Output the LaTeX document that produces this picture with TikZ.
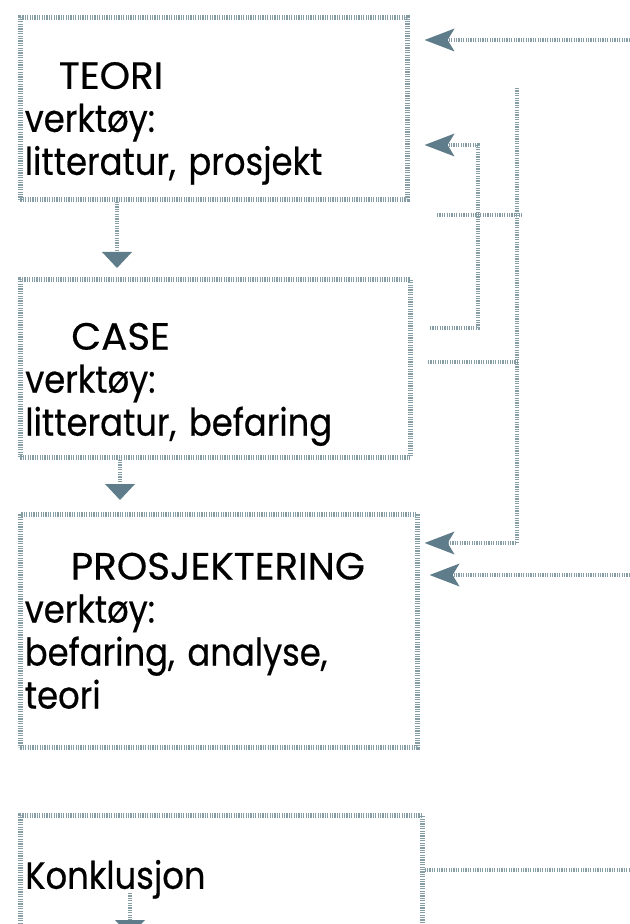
\documentclass[tikz,border=0pt]{standalone}
\usepackage{fontspec}
\setmainfont{Poppins}[FakeStretch=0.89, FakeBold=0.5]
\usepackage{tikz}
\usetikzlibrary{arrows.meta,positioning}
\definecolor{slate}{HTML}{5E7C89}
\newcommand{\capline}[1]{{\addfontfeature{FakeStretch=1.02}#1}}

\begin{document}
\begin{tikzpicture}[
    x=0.5pt, y=-0.5pt,
    box/.style={rectangle, draw=slate!75, line width=2.3pt, dash pattern=on 0.6pt off 0.6pt,
        anchor=north west, inner sep=2pt, align=left, font=\fontsize{19}{21.5}\selectfont},
    flow/.style={draw=slate!75, line width=2.3pt, dash pattern=on 0.6pt off 0.6pt},
    down/.style={flow, -{Triangle[length=8pt, width=15pt, line width=0pt, color=slate, fill=slate]}},
    back/.style={flow, -{Stealth[length=15pt, width=11.5pt, inset=3.5pt, line width=0pt, color=slate, fill=slate]}}
]
    \useasboundingbox (0,0) rectangle (630,924);

    % boxes
    \node[box, minimum width=193.5pt, minimum height=91pt, text width=189pt] (teori) at (18,15)
        {\rule{0pt}{28.5pt}\hspace*{17pt}\capline{TEORI}\\verktøy:\\litteratur, prosjekt};
    \node[box, minimum width=195pt, minimum height=89pt, text width=190pt] (case) at (18,277)
        {\rule{0pt}{29.5pt}\hspace*{23pt}\capline{CASE}\\verktøy:\\litteratur, befaring};
    \node[box, minimum width=198.5pt, minimum height=116.5pt, text width=194pt] (prosj) at (18,512)
        {\hspace*{23pt}\capline{PROSJEKTERING}\\verktøy:\\befaring, analyse,\\teori};
    \node[box, minimum width=201pt, minimum height=64pt, text width=196pt] (konk) at (18,813)
        {Konklusjon};

    % free ends
    \coordinate (inTop) at (630,40);
    \coordinate (aTop) at (517,88);
    \coordinate (aBot) at (517,543);
    \coordinate (bLow) at (430,328);
    \coordinate (bBot) at (478,328);
    \coordinate (bTop) at (478,145);
    \coordinate (crossL) at (437,215);
    \coordinate (crossR) at (522,215);
    \coordinate (midL) at (428,362);
    \coordinate (inMid) at (630,575);
    \coordinate (outBot) at (630,870);
    \coordinate (konkA) at (130,893);
    \coordinate (konkB) at (130,936);

    % flow down
    \draw[down] ([xshift=49.5pt]teori.south west) -- ([xshift=49.5pt, yshift=4.5pt]case.north west);
    \draw[down] ([xshift=51pt]case.south west) -- ([xshift=51pt, yshift=6pt]prosj.north west);
    \draw[down] (konkA) -- (konkB);

    % feedback
    \draw[back, shorten >=7.5pt] (inTop) -- (inTop -| teori.east);
    \draw[back, shorten >=7.5pt] (bLow) -- (bBot) -- (bTop) -- (bTop -| teori.east);
    \draw[back, shorten >=2.5pt] (aTop) -- (aBot) -- (aBot -| prosj.east);
    \draw[flow] (crossL) -- (crossR);
    \draw[flow] (midL) -- (aTop |- midL);
    \draw[back, shorten >=5pt] (inMid) -- (inMid -| prosj.east);
    \draw[flow] (konk.east |- outBot) -- (outBot);
\end{tikzpicture}
\end{document}
